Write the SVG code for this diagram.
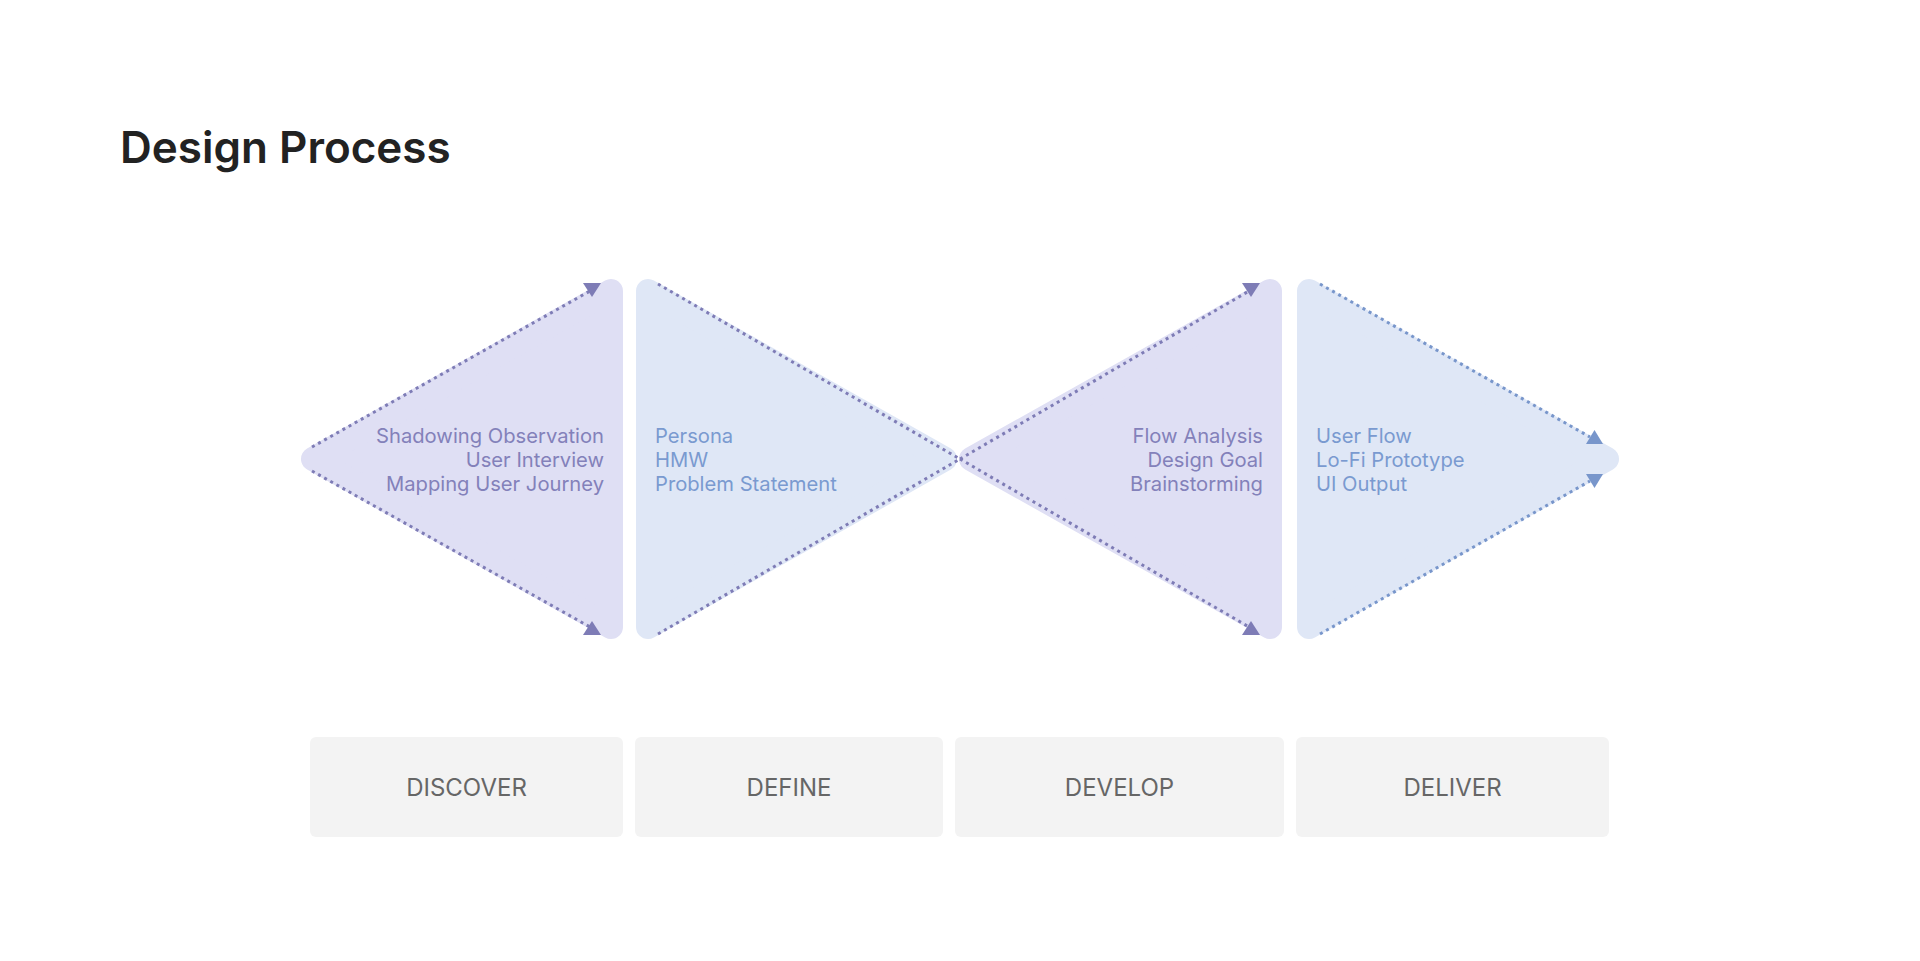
<svg xmlns="http://www.w3.org/2000/svg" width="1920" height="961" viewBox="0 0 1920 961">
  <style>
    .title { font-family: Inter, "Noto Sans", "Liberation Sans", sans-serif; font-weight: 600; font-size: 44px; fill: #222222; }
    .tri { stroke-width: 24; stroke-linejoin: round; }
    .lav { fill: #DFDFF4; stroke: #DFDFF4; }
    .sky { fill: #DFE7F6; stroke: #DFE7F6; }
    .item { font-family: Inter, "Noto Sans", "Liberation Sans", sans-serif; font-size: 20.2px; }
    .ip { fill: #8381BA; }
    .ib { fill: #7A9AD0; }
    .dot { fill: none; stroke-width: 3; stroke-dasharray: 3 4; }
    .dp { stroke: #7E7CB6; }
    .db { stroke: #7896CB; }
    .ap { fill: #7E7CB6; }
    .ab { fill: #7896CB; }
    .box { fill: #F3F3F3; }
    .lbl { font-family: Inter, "Noto Sans", "Liberation Sans", sans-serif; font-size: 24px; fill: #666666; text-anchor: middle; }
  </style>
  <rect width="1920" height="961" fill="#FFFFFF"/>
  <text class="title" x="120" y="163">Design Process</text>

  <g id="discover-shape">
    <polygon class="tri lav" points="313,459 611,291 611,627"/>
    <text class="item ip" text-anchor="end" x="604" y="443">Shadowing Observation</text>
    <text class="item ip" text-anchor="end" x="604" y="467">User Interview</text>
    <text class="item ip" text-anchor="end" x="604" y="491">Mapping User Journey</text>
  </g>
  <g id="define-shape">
    <polygon class="tri sky" points="648,291 648,627 945,459"/>
    <text class="item ib" x="655" y="443">Persona</text>
    <text class="item ib" x="655" y="467">HMW</text>
    <text class="item ib" x="655" y="491">Problem Statement</text>
  </g>
  <g id="develop-shape">
    <polygon class="tri lav" points="971,459 1270,291 1270,627"/>
    <text class="item ip" text-anchor="end" x="1263" y="443">Flow Analysis</text>
    <text class="item ip" text-anchor="end" x="1263" y="467">Design Goal</text>
    <text class="item ip" text-anchor="end" x="1263" y="491">Brainstorming</text>
  </g>
  <g id="deliver-shape">
    <polygon class="tri sky" points="1309,291 1309,627 1607,459"/>
    <text class="item ib" x="1316" y="443">User Flow</text>
    <text class="item ib" x="1316" y="467">Lo-Fi Prototype</text>
    <text class="item ib" x="1316" y="491">UI Output</text>
  </g>

  <g id="connectors">
    <line class="dot dp" x1="312" y1="447" x2="590" y2="291"/>
    <line class="dot dp" x1="312" y1="471" x2="590" y2="627"/>
    <polygon class="ap" points="583,283 601,283 592,297"/>
    <polygon class="ap" points="583,635 601,635 592,621"/>

    <line class="dot dp" x1="658" y1="284" x2="960" y2="459"/>
    <line class="dot dp" x1="658" y1="634" x2="960" y2="459"/>

    <line class="dot dp" x1="960" y1="459" x2="1249" y2="291"/>
    <line class="dot dp" x1="960" y1="459" x2="1249" y2="627"/>
    <polygon class="ap" points="1242,283 1260,283 1251,297"/>
    <polygon class="ap" points="1242,635 1260,635 1251,621"/>

    <line class="dot db" x1="1320" y1="284" x2="1590" y2="437"/>
    <line class="dot db" x1="1320" y1="634" x2="1590" y2="481"/>
    <polygon class="ab" points="1586,444 1603,444 1594.5,430"/>
    <polygon class="ab" points="1586,474 1603,474 1594.5,488"/>
  </g>

  <g id="discover">
    <rect class="box" x="310" y="737" width="313" height="100" rx="6"/>
    <text class="lbl" x="466.5" y="796">DISCOVER</text>
  </g>
  <g id="define">
    <rect class="box" x="635" y="737" width="308" height="100" rx="6"/>
    <text class="lbl" x="789" y="796">DEFINE</text>
  </g>
  <g id="develop">
    <rect class="box" x="955" y="737" width="329" height="100" rx="6"/>
    <text class="lbl" x="1119.5" y="796">DEVELOP</text>
  </g>
  <g id="deliver">
    <rect class="box" x="1296" y="737" width="313" height="100" rx="6"/>
    <text class="lbl" x="1452.5" y="796">DELIVER</text>
  </g>
</svg>
